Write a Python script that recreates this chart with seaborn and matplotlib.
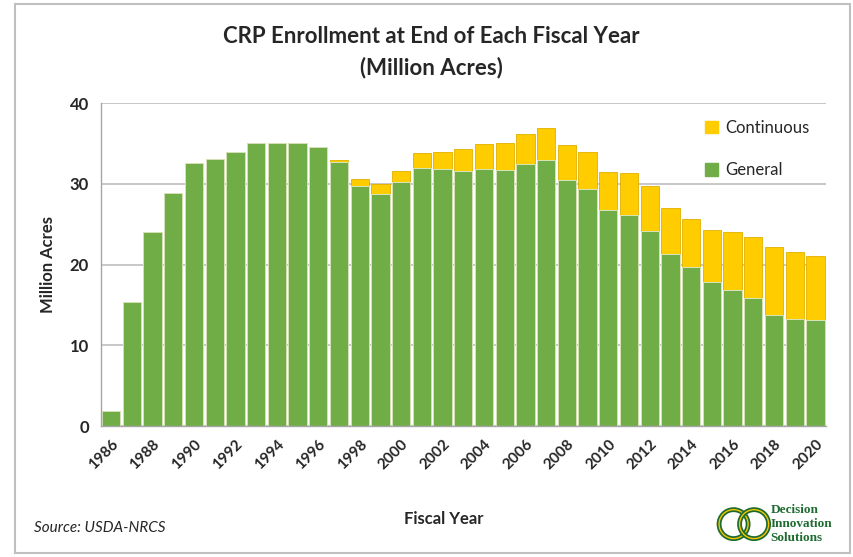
import matplotlib.pyplot as plt
import matplotlib.patches as mpatches
import seaborn as sns
import pandas as pd
import numpy as np

# dados (milhoes de acres)
anos = list(range(1986, 2021))
geral = [1.9, 15.4, 24.0, 28.9, 32.6, 33.1, 34.0, 35.1, 35.1, 35.1,
         34.6, 32.7, 29.7, 28.8, 30.2, 32.0, 31.8, 31.6, 31.8, 31.7,
         32.4, 32.9, 30.5, 29.4, 26.7, 26.1, 24.2, 21.3, 19.7, 17.9,
         16.8, 15.9, 13.8, 13.3, 13.1]
total = [1.9, 15.4, 24.0, 28.9, 32.6, 33.1, 34.0, 35.1, 35.1, 35.1,
         34.6, 32.9, 30.6, 30.0, 31.6, 33.8, 34.0, 34.3, 34.9, 35.1,
         36.2, 36.9, 34.8, 33.9, 31.5, 31.4, 29.7, 27.0, 25.7, 24.3,
         24.0, 23.4, 22.2, 21.5, 21.1]
continuo = [t - g for t, g in zip(total, geral)]

verde = '#70AD47'
amarelo = '#FFCC00'

df = pd.DataFrame({'Ano': [str(a) for a in anos], 'Geral': geral,
                   'Continuo': continuo, 'Total': total})

sns.set_style('white')
plt.rcParams['font.family'] = ['Lato', 'DejaVu Sans']

fig = plt.figure(figsize=(8.54, 5.57), dpi=100)
ax = fig.add_axes([0.118, 0.235, 0.849, 0.580])

sns.barplot(data=df, x='Ano', y='Total', color=amarelo, width=0.88,
            edgecolor='#E0B000', linewidth=0.6, saturation=1, ax=ax)
sns.barplot(data=df, x='Ano', y='Geral', color=verde, width=0.88,
            edgecolor='#DDEBD3', linewidth=0.6, saturation=1, ax=ax)

ax.set_xlim(-0.5, len(anos) - 0.5)
ax.set_ylim(0, 40)
ax.set_yticks([0, 10, 20, 30, 40])
ax.yaxis.grid(True, color='#BFBFBF', linewidth=1.2)
ax.set_axisbelow(True)

# ticks do eixo x entre as barras, rotulos a cada dois anos
ax.set_xticks(np.arange(0, len(anos), 2))
ax.set_xticklabels([str(a) for a in anos[::2]], rotation=45, ha='right',
                   rotation_mode='anchor', fontsize=11, fontweight='bold')
ax.set_xticks(np.arange(-0.5, len(anos), 1), minor=True)
ax.tick_params(axis='x', which='major', length=0, pad=8)
ax.tick_params(axis='x', which='minor', length=5, color='#A6A6A6', width=1)
ax.tick_params(axis='y', length=5, color='#A6A6A6', width=1, labelsize=12)
for lb in ax.get_yticklabels():
    lb.set_fontweight('bold')

for s in ['top', 'right']:
    ax.spines[s].set_visible(False)
for s in ['left', 'bottom']:
    ax.spines[s].set_color('#A6A6A6')
    ax.spines[s].set_linewidth(1)

ax.set_xlabel('')
ax.set_ylabel('Million Acres', fontsize=12, fontweight='bold', labelpad=10)

# legenda
handles = [mpatches.Patch(color=amarelo, label='Continuous'),
           mpatches.Patch(color=verde, label='General')]
ax.legend(handles=handles, loc='upper right', bbox_to_anchor=(1.0, 1.0),
          frameon=False, fontsize=12, labelspacing=1.6, handlelength=0.8,
          handleheight=0.8, handletextpad=0.4, borderaxespad=0.6)

fig.text(0.505, 0.935, 'CRP Enrollment at End of Each Fiscal Year',
         ha='center', va='center', fontsize=16, fontweight='bold')
fig.text(0.505, 0.878, '(Million Acres)', ha='center', va='center',
         fontsize=16, fontweight='bold')
fig.text(0.52, 0.068, 'Fiscal Year', ha='center', va='center',
         fontsize=12, fontweight='bold')
fig.text(0.04, 0.052, 'Source: USDA-NRCS', ha='left', va='center',
         fontsize=11, style='italic')

# logo simplificado
fig.text(0.902, 0.059, 'Decision\nInnovation\nSolutions', ha='left',
         va='center', fontsize=9.5, fontweight='bold', color='#1E6B30',
         family='Liberation Serif', linespacing=1.2)
cx, cy = 0.871, 0.059
for dx in (-0.012, 0.012):
    fig.patches.append(mpatches.Ellipse((cx + dx, cy), 0.034, 0.052,
                                        transform=fig.transFigure, facecolor='none',
                                        edgecolor='#1E6B30', linewidth=3.5))
    fig.patches.append(mpatches.Ellipse((cx + dx, cy), 0.034, 0.052,
                                        transform=fig.transFigure, facecolor='none',
                                        edgecolor='#F2C500', linewidth=1))

# moldura
fig.patches.append(mpatches.Rectangle((0.017, 0.008), 0.978, 0.985,
                                      transform=fig.transFigure, fill=False,
                                      edgecolor='#BFBFBF', linewidth=1.5))

fig.savefig('out.png', dpi=100)
